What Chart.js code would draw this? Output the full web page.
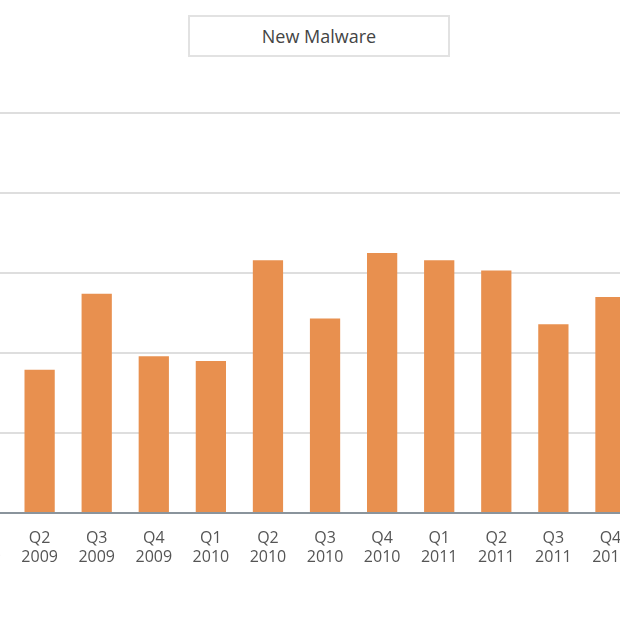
<!DOCTYPE html>
<html>
<head>
<meta charset="utf-8">
<script src="https://cdn.jsdelivr.net/npm/chart.js@4"></script>
<style>
  body { margin: 0; width: 620px; height: 620px; overflow: hidden; background: #fff; position: relative; font-family: "Open Sans", sans-serif; }
  #legend { position: absolute; left: 188px; top: 15px; width: 262px; height: 42px; border: 2px solid #e2e2e2; box-sizing: border-box;
            text-align: center; line-height: 38px; font-size: 18px; color: #444; }
  #wrap { position: absolute; left: -46px; top: 0; width: 685px; height: 620px; }
</style>
</head>
<body>
<div id="legend">New Malware</div>
<div id="wrap"><canvas id="c"></canvas></div>
<script>
const quarters = ["Q1", "Q2", "Q3", "Q4", "Q1", "Q2", "Q3", "Q4", "Q1", "Q2", "Q3", "Q4"];
const years = ["2009", "2009", "2009", "2009", "2010", "2010", "2010", "2010", "2011", "2011", "2011", "2011"];
const newMalware = [2.2, 1.79, 2.74, 1.96, 1.9, 3.16, 2.43, 3.25, 3.16, 3.03, 2.36, 2.7];

new Chart(document.getElementById("c"), {
  type: "bar",
  data: {
    labels: quarters.map((q, i) => [q, years[i]]),
    datasets: [{ label: "New Malware", data: newMalware, backgroundColor: "#e8904f", categoryPercentage: 1, barPercentage: 0.53 }]
  },
  options: {
    responsive: true,
    maintainAspectRatio: false,
    animation: false,
    layout: { padding: { top: 113, left: 0, right: 0, bottom: 0 } },
    plugins: { legend: { display: false }, tooltip: { enabled: false } },
    scales: {
      x: {
        grid: { display: false },
        border: { color: "#8a949c", width: 2 },
        ticks: { color: "#555", font: { size: 16, family: "Open Sans" }, padding: 8, maxRotation: 0, autoSkip: false },
        afterFit: s => { s.height = 107; }
      },
      y: {
        min: 0, max: 5,
        ticks: { display: false, stepSize: 1 },
        border: { display: false },
        grid: { color: "#dedede", lineWidth: 2, drawTicks: false },
        afterFit: s => { s.width = 0; }
      }
    }
  }
});
</script>
</body>
</html>
